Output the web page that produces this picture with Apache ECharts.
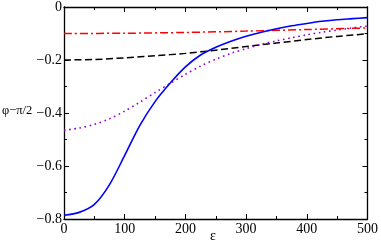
<!DOCTYPE html>
<html>
<head>
<meta charset="utf-8">
<script src="https://cdn.jsdelivr.net/npm/echarts@6/dist/echarts.min.js"></script>
<style>
html,body{margin:0;padding:0;background:#fff;}
#chart{width:381px;height:242px;}
</style>
</head>
<body>
<div id="chart"></div>
<script>
// epsilon sample points
const eps = [0, 25, 50, 75, 100, 125, 150, 175, 200, 225, 250, 275, 300, 325, 350, 375, 400, 425, 450, 475, 500];
// solid blue
const blueVals = [-0.786, -0.775, -0.745, -0.670, -0.560, -0.447, -0.357, -0.287, -0.226, -0.181, -0.152, -0.129, -0.110, -0.095, -0.082, -0.071, -0.062, -0.054, -0.048, -0.044, -0.040];
// dotted violet
const violetVals = [-0.465, -0.457, -0.443, -0.422, -0.393, -0.359, -0.323, -0.288, -0.254, -0.223, -0.197, -0.175, -0.157, -0.141, -0.128, -0.116, -0.105, -0.095, -0.087, -0.079, -0.072];
// dashed black
const blackEps = [0, 50, 100, 150, 200, 250, 300, 350, 400, 450, 500];
const blackVals = [-0.200, -0.198, -0.192, -0.184, -0.175, -0.163, -0.149, -0.136, -0.123, -0.111, -0.101];
// dash-dot red
const redEps = [0, 100, 200, 300, 400, 500];
const redVals = [-0.100, -0.099, -0.096, -0.091, -0.085, -0.079];

const xTicks = [0, 100, 200, 300, 400, 500];
const yTicks = [-0.8, -0.6, -0.4, -0.2, 0];

const pair = (xs, ys) => xs.map((x, i) => [x, ys[i]]);
const font = 'Liberation Serif';

const baseAxis = {
  axisLine: {show: true, onZero: false, lineStyle: {color: '#000', width: 1.3}},
  axisTick: {show: true, inside: true, length: 5, lineStyle: {color: '#000', width: 1}},
  minorTick: {show: true, splitNumber: 2, length: 3, lineStyle: {color: '#000', width: 1}},
  splitLine: {show: false},
  minorSplitLine: {show: false}
};

const chart = echarts.init(document.getElementById('chart'), null, {renderer: 'canvas'});
chart.setOption({
  animation: false,
  backgroundColor: '#fff',
  grid: {left: 64, right: 10, top: 5, bottom: 23},
  xAxis: [
    Object.assign({}, baseAxis, {
      type: 'value', min: xTicks[0], max: xTicks[xTicks.length - 1], interval: 100,
      position: 'bottom',
      axisLabel: {color: '#000', fontFamily: font, fontSize: 14, margin: 3}
    }),
    Object.assign({}, baseAxis, {
      type: 'value', min: xTicks[0], max: xTicks[xTicks.length - 1], interval: 100,
      position: 'top', axisLabel: {show: false}
    })
  ],
  yAxis: [
    Object.assign({}, baseAxis, {
      type: 'value', min: yTicks[0], max: yTicks[yTicks.length - 1], interval: 0.2,
      position: 'left',
      axisLabel: {color: '#000', fontFamily: font, fontSize: 14, margin: 2,
        formatter: v => Math.abs(v) < 1e-9 ? '0' : '\u2212' + Math.abs(v).toFixed(1)}
    }),
    Object.assign({}, baseAxis, {
      type: 'value', min: yTicks[0], max: yTicks[yTicks.length - 1], interval: 0.2,
      position: 'right', axisLabel: {show: false}
    })
  ],
  graphic: [
    {type: 'text', left: 2, top: 104, style: {text: 'φ\u2212π/2', font: '12.5px "Liberation Serif"', fill: '#000'}},
    {type: 'text', left: 210, top: 229, style: {text: 'ε', font: '14px "Liberation Serif"', fill: '#000'}}
  ],
  series: [
    {type: 'line', data: pair(redEps, redVals), smooth: 0.3, showSymbol: false,
      lineStyle: {color: '#ff0000', width: 1.5, type: [8, 3, 2, 3]}},
    {type: 'line', data: pair(blackEps, blackVals), smooth: 0.3, showSymbol: false,
      lineStyle: {color: '#000000', width: 1.5, type: [7, 3.5]}},
    {type: 'line', data: pair(eps, violetVals), smooth: 0.3, showSymbol: false,
      lineStyle: {color: '#9400d3', width: 1.6, type: [1.6, 3.6]}},
    {type: 'line', data: pair(eps, blueVals), smooth: 0.3, showSymbol: false,
      lineStyle: {color: '#0000ff', width: 1.6, type: 'solid'}}
  ]
});
</script>
</body>
</html>
